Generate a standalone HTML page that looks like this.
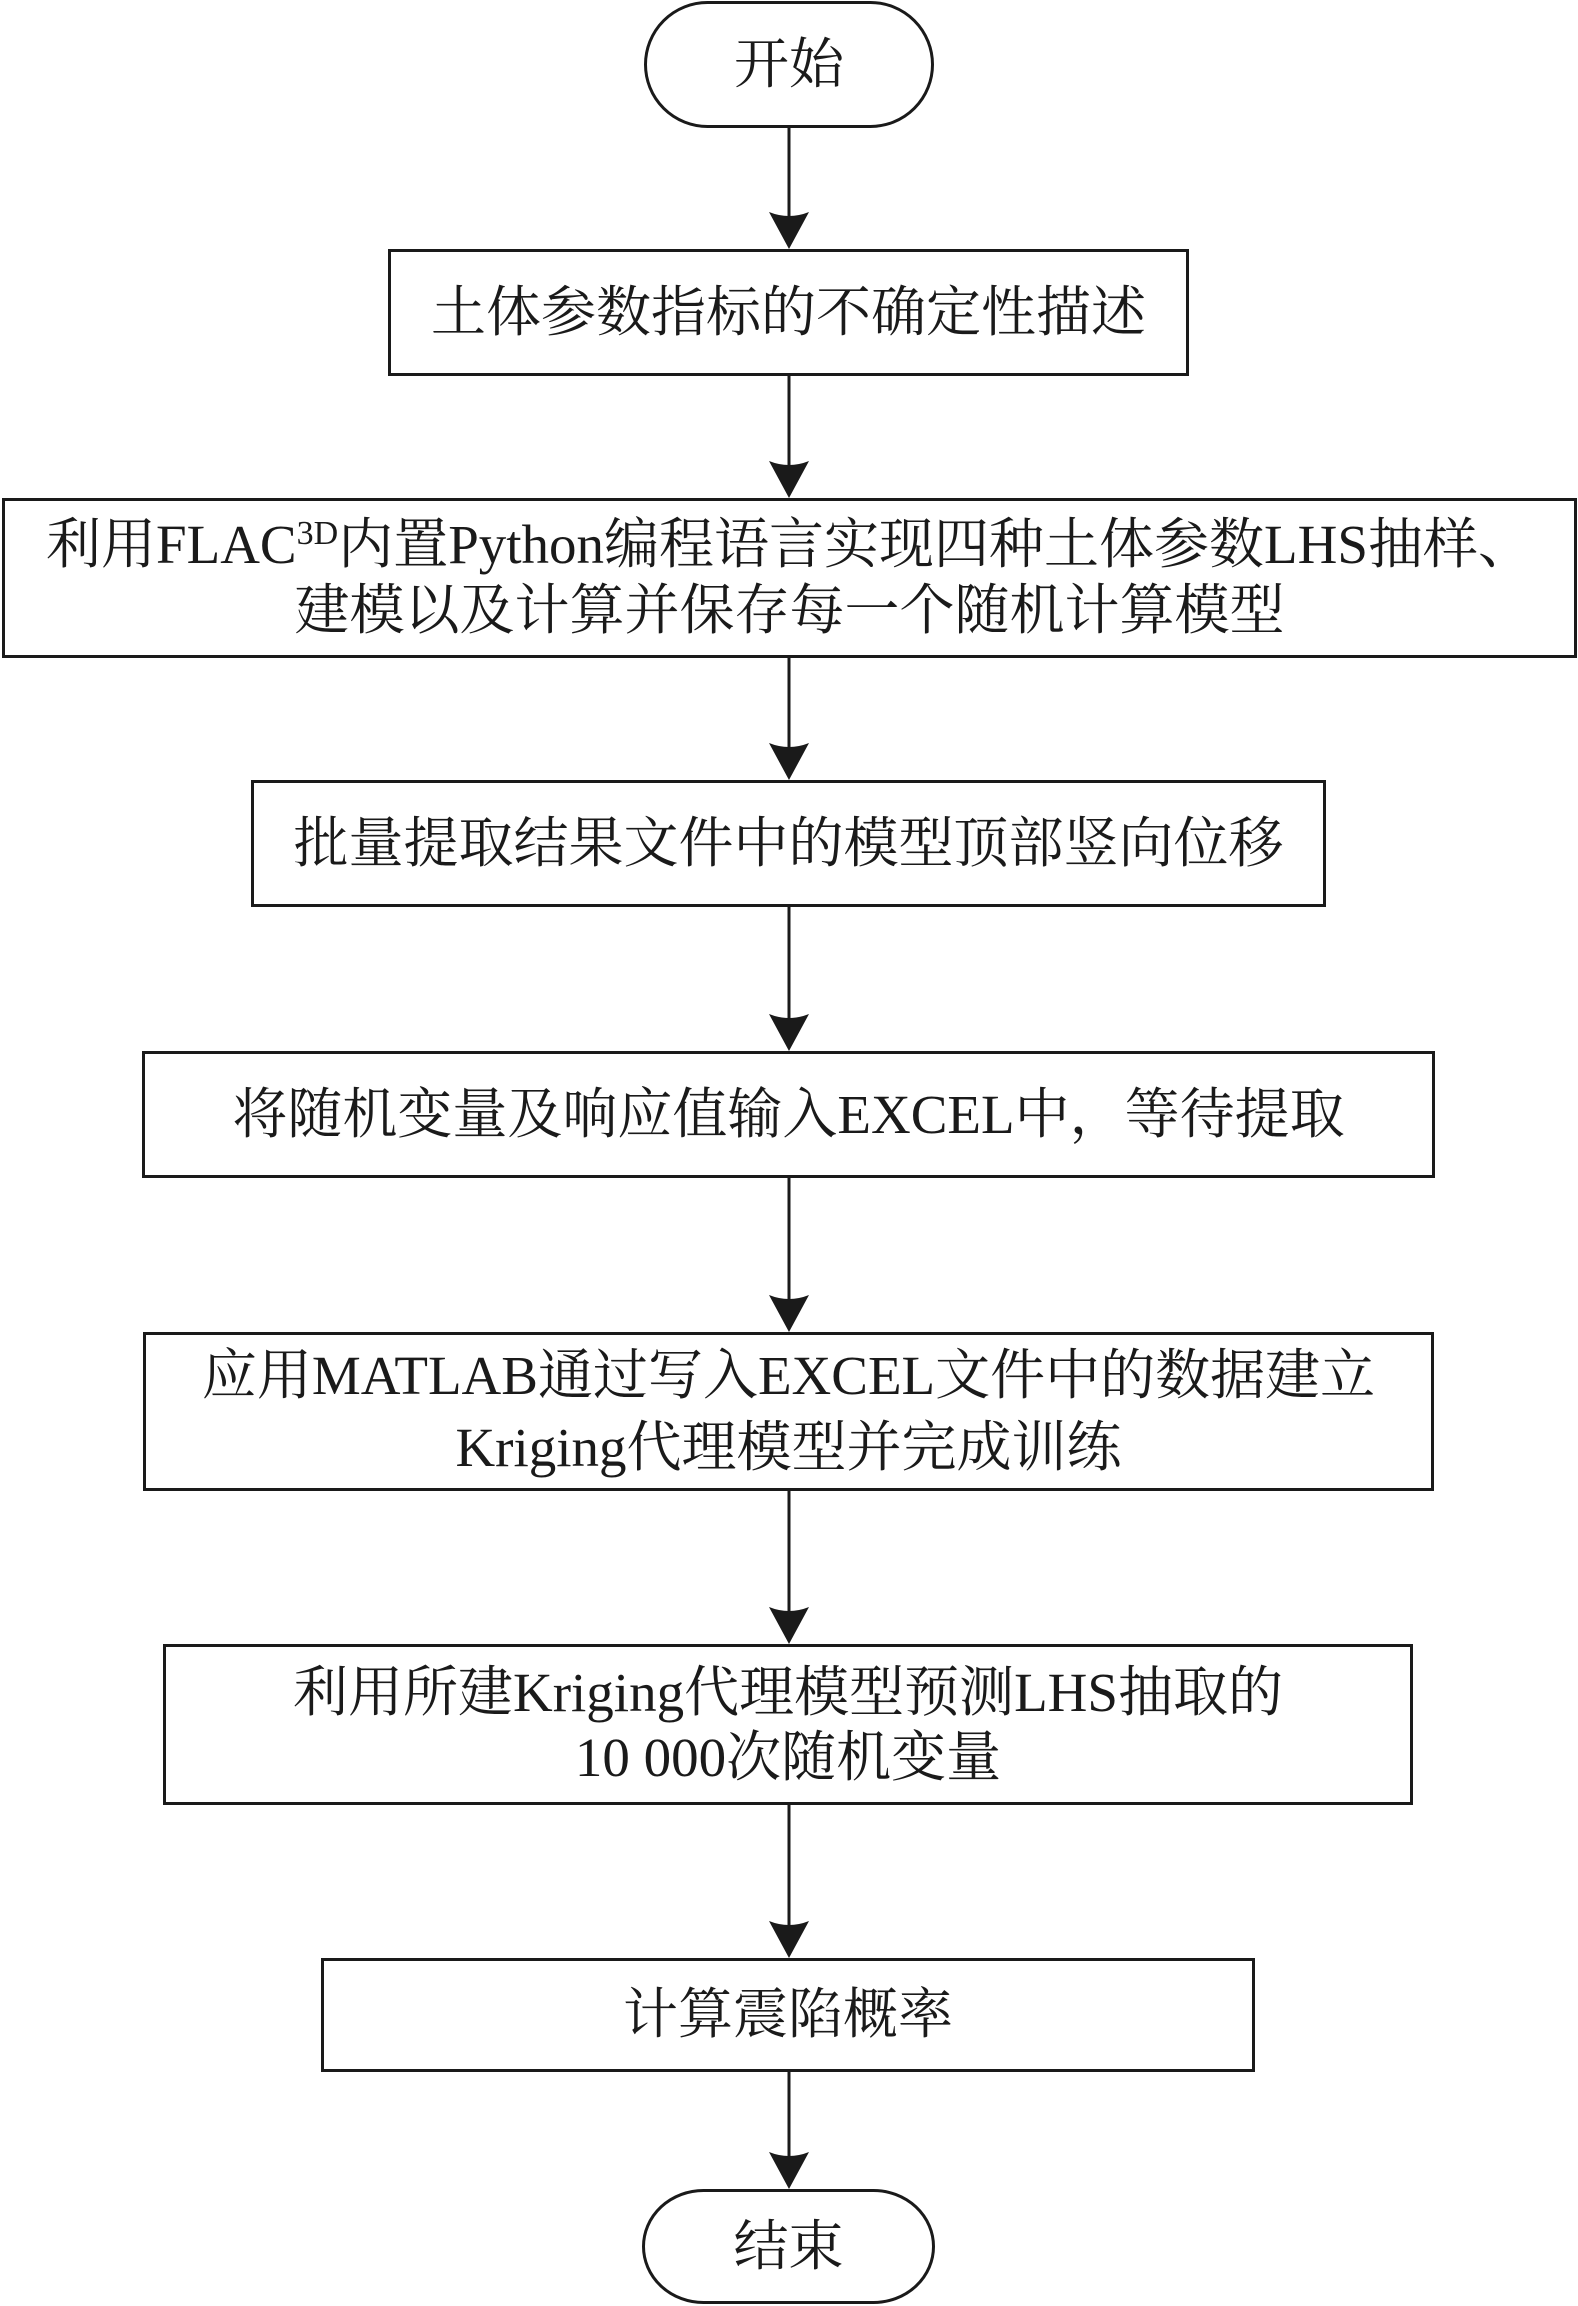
<!DOCTYPE html>
<html>
<head>
<meta charset="utf-8">
<style>
  html, body { margin:0; padding:0; background:#fff; }
  body { width:1578px; height:2306px; position:relative; overflow:hidden; }
  .t {
    position:absolute; box-sizing:border-box;
    display:flex; align-items:center; justify-content:center;
    text-align:center; color:#1a1a1a;
    font-family:"Liberation Serif","Noto Serif CJK SC","Noto Sans CJK SC",serif;
    font-size:55px; line-height:66px; white-space:nowrap;
  }
  .t span.l { display:block; }
  sup.s { font-size:34px; vertical-align:19px; line-height:0; }
  svg { position:absolute; left:0; top:0; }
</style>
</head>
<body>
<svg width="1578" height="2306" viewBox="0 0 1578 2306">
  <g fill="#fff" stroke="#1a1a1a" stroke-width="3">
    <rect x="645.5" y="2.5" width="287" height="124" rx="62" ry="62"/>
    <rect x="389.5" y="250.5" width="798" height="124"/>
    <rect x="3.5" y="499.5" width="1572" height="157"/>
    <rect x="252.5" y="781.5" width="1072" height="124"/>
    <rect x="143.5" y="1052.5" width="1290" height="124"/>
    <rect x="144.5" y="1333.5" width="1288" height="156"/>
    <rect x="164.5" y="1645.5" width="1247" height="158"/>
    <rect x="322.5" y="1959.5" width="931" height="111"/>
    <rect x="643.5" y="2190.5" width="290" height="112" rx="60" ry="56"/>
  </g>
  <g stroke="#1a1a1a" stroke-width="3" fill="none">
    <line x1="789" y1="128" x2="789" y2="216"/>
    <line x1="789" y1="376" x2="789" y2="465"/>
    <line x1="789" y1="658" x2="789" y2="747"/>
    <line x1="789" y1="907" x2="789" y2="1018"/>
    <line x1="789" y1="1178" x2="789" y2="1299"/>
    <line x1="789" y1="1491" x2="789" y2="1611"/>
    <line x1="789" y1="1805" x2="789" y2="1925"/>
    <line x1="789" y1="2072" x2="789" y2="2156"/>
  </g>
  <g fill="#1a1a1a">
    <path d="M769,212 Q789,220 809,212 L789,249 Z"/>
    <path d="M769,461 Q789,469 809,461 L789,498 Z"/>
    <path d="M769,743 Q789,751 809,743 L789,780 Z"/>
    <path d="M769,1014 Q789,1022 809,1014 L789,1051 Z"/>
    <path d="M769,1295 Q789,1303 809,1295 L789,1332 Z"/>
    <path d="M769,1607 Q789,1615 809,1607 L789,1644 Z"/>
    <path d="M769,1921 Q789,1929 809,1921 L789,1958 Z"/>
    <path d="M769,2152 Q789,2160 809,2152 L789,2189 Z"/>
  </g>
</svg>

<div class="t" style="left:644px;top:1px;width:290px;height:127px;">开始</div>
<div class="t" style="left:388px;top:249px;width:801px;height:127px;">土体参数指标的不确定性描述</div>
<div class="t" style="left:2px;top:498px;width:1575px;height:160px;line-height:66px;">
  <div><span class="l">利用FLAC<sup class="s">3D</sup>内置Python编程语言实现四种土体参数LHS抽样、</span><span class="l">建模以及计算并保存每一个随机计算模型</span></div>
</div>
<div class="t" style="left:251px;top:780px;width:1075px;height:127px;">批量提取结果文件中的模型顶部竖向位移</div>
<div class="t" style="left:142px;top:1051px;width:1293px;height:127px;">将随机变量及响应值输入EXCEL中，等待提取</div>
<div class="t" style="left:143px;top:1332px;width:1291px;height:159px;line-height:72px;">
  <div><span class="l">应用MATLAB通过写入EXCEL文件中的数据建立</span><span class="l">Kriging代理模型并完成训练</span></div>
</div>
<div class="t" style="left:163px;top:1644px;width:1250px;height:161px;line-height:65px;">
  <div><span class="l">利用所建Kriging代理模型预测LHS抽取的</span><span class="l">10 000次随机变量</span></div>
</div>
<div class="t" style="left:321px;top:1958px;width:934px;height:114px;">计算震陷概率</div>
<div class="t" style="left:642px;top:2189px;width:293px;height:115px;">结束</div>
</body>
</html>
